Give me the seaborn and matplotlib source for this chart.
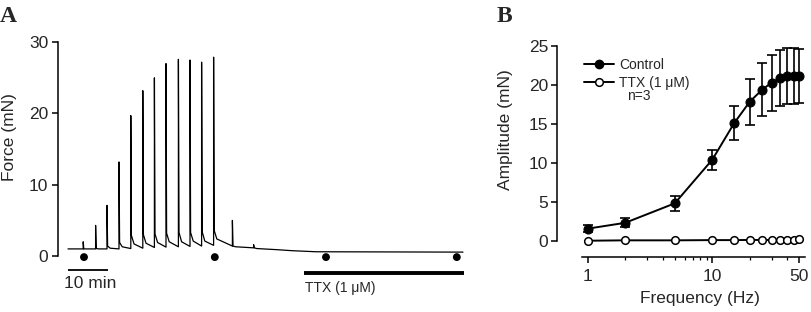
#!/usr/bin/env python3
"""
Force trace (A) and frequency-response curve (B), redrawn with seaborn.
"""
import pandas as pd
import seaborn as sns
import matplotlib.pyplot as plt
from matplotlib.ticker import FixedLocator, FixedFormatter, NullFormatter
from matplotlib.lines import Line2D

sns.set_theme(style='ticks', rc={"axes.spines.right": False,
                                 "axes.spines.top": False})
plt.rcParams['font.family'] = ['Liberation Sans', 'DejaVu Sans']

# ---- panel A: force trace (min, mN) ----
spike_time = [3.8, 6.9, 9.75, 12.75, 15.7, 18.7, 21.6, 24.5, 27.6, 30.5, 33.4, 36.4, 41.1, 46.4]
spike_peak = [2.0, 4.3, 7.1, 13.2, 19.7, 23.2, 25.0, 27.0, 27.6, 27.5, 27.2, 27.9, 5.0, 1.6]
spike_base = [1.0, 1.0, 1.0, 1.0, 1.05, 1.1, 1.2, 1.25, 1.3, 1.35, 1.4, 1.5, 1.4, 1.15]
spike_after = [1.0, 1.05, 1.4, 1.9, 2.9, 3.0, 3.1, 3.2, 3.3, 3.3, 3.4, 3.6, 1.4, 1.15]
spike_mid = [1.0, 1.0, 1.1, 1.3, 1.7, 1.8, 1.9, 2.0, 2.0, 2.1, 2.1, 2.4, 1.3, 1.05]
tail_time = [52.0, 56.0, 62.0, 98.75]
tail_force = [0.9, 0.75, 0.6, 0.55]
stim_time = [4.0, 36.7, 64.5, 97.2]
ttx_period = [59.0, 99.0]

# ---- panel B: amplitude vs frequency ----
freq = [1, 2, 5, 10, 15, 20, 25, 30, 35, 40, 45, 50]
control_mean = [1.55, 2.3, 4.8, 10.4, 15.1, 17.85, 19.35, 20.3, 20.85, 21.1, 21.2, 21.15]
control_err = [0.45, 0.6, 0.95, 1.3, 2.2, 2.95, 3.4, 3.6, 3.6, 3.6, 3.6, 3.45]
ttx_mean = [0.0, 0.05, 0.05, 0.08, 0.08, 0.1, 0.1, 0.1, 0.12, 0.15, 0.15, 0.18]

FS = 12.5


def build_trace():
    t = [0.0]
    f = [spike_base[0]]
    for ts, base, peak, after, mid in zip(spike_time, spike_base, spike_peak,
                                          spike_after, spike_mid):
        t += [ts, ts, ts + 0.15, ts + 0.8]
        f += [base, peak, after, mid]
    t += tail_time
    f += tail_force
    return pd.DataFrame({'time': t, 'force': f})


fig = plt.figure(figsize=(8.12, 3.12), dpi=100)

# ---------------- A ----------------
ax_a = fig.add_axes([58 / 812, 0.0423, 408 / 812, 0.827])
trace = build_trace()
sns.lineplot(data=trace, x='time', y='force', estimator=None, sort=False,
             color='black', lw=0.9, ax=ax_a)
stims = pd.DataFrame({'time': stim_time, 'y': [-0.15] * len(stim_time)})
sns.scatterplot(data=stims, x='time', y='y', color='black', s=32,
                edgecolor='none', ax=ax_a, zorder=3)
ax_a.plot([0, 10], [-2.0, -2.0], color='black', lw=1.3, solid_capstyle='butt', clip_on=False)
ax_a.plot(ttx_period, [-2.35, -2.35], color='black', lw=2.8, solid_capstyle='butt', clip_on=False)
ax_a.text(-1.0, -3.9, '10 min', fontsize=FS, va='center', ha='left')
ax_a.text(59.3, -4.5, 'TTX (1 \u03bcM)', fontsize=10, va='center', ha='left')

ax_a.set_xlim(-2.5, 99.5)
ax_a.set_ylim(-6, 30.2)
ax_a.set_yticks([0, 10, 20, 30])
ax_a.spines['left'].set_bounds(0, 30)
ax_a.spines['bottom'].set_visible(False)
ax_a.set_xticks([])
ax_a.set_xlabel('')
ax_a.set_ylabel('Force (mN)', fontsize=FS)
ax_a.yaxis.set_label_coords(-0.1, 0.625)
ax_a.tick_params(axis='y', direction='out', length=4.5, width=1.1, pad=2.5,
                 labelsize=FS, color='black')
ax_a.spines['left'].set_linewidth(1.1)
ax_a.spines['left'].set_color('black')

# ---------------- B ----------------
ax_b = fig.add_axes([581.7 / 812, 0.176, 223.3 / 812, 0.6817])
resp = pd.DataFrame({'freq': freq * 2,
                     'amp': control_mean + ttx_mean,
                     'cond': ['Control'] * len(freq) + ['TTX (1 \u03bcM)'] * len(freq)})
ax_b.errorbar(freq, control_mean, yerr=control_err, fmt='none', ecolor='black',
              elinewidth=1.2, capsize=3.6, capthick=1.2, zorder=2)
sns.lineplot(data=resp[resp['cond'] == 'Control'], x='freq', y='amp',
             color='black', lw=1.4, marker='o', markersize=6.5,
             markerfacecolor='black', markeredgecolor='black', ax=ax_b, zorder=3)
sns.lineplot(data=resp[resp['cond'] != 'Control'], x='freq', y='amp',
             color='black', lw=1.4, marker='o', markersize=5.5,
             markerfacecolor='white', markeredgecolor='black', markeredgewidth=1.1,
             ax=ax_b, zorder=3)

ax_b.set_xscale('log')
ax_b.set_xlim(0.895, 55.5)
ax_b.set_ylim(-2.1, 25.2)
ax_b.xaxis.set_major_locator(FixedLocator([1, 10, 50]))
ax_b.xaxis.set_major_formatter(FixedFormatter(['1', '10', '50']))
ax_b.xaxis.set_minor_locator(FixedLocator([2, 3, 4, 5, 6, 7, 8, 9, 20, 30, 40]))
ax_b.xaxis.set_minor_formatter(NullFormatter())
ax_b.set_yticks([0, 5, 10, 15, 20, 25])
ax_b.spines['left'].set_position(('outward', 18))
ax_b.spines['left'].set_bounds(0, 25)
for side in ['left', 'bottom']:
    ax_b.spines[side].set_linewidth(1.1)
    ax_b.spines[side].set_color('black')
ax_b.tick_params(axis='both', which='major', direction='out', length=4.5, width=1.1,
                 labelsize=FS, color='black')
ax_b.tick_params(axis='x', which='major', pad=4)
ax_b.tick_params(axis='y', which='major', pad=1.5)
ax_b.tick_params(axis='x', which='minor', direction='out', length=2.5, width=0.9, color='black')
ax_b.set_xlabel('Frequency (Hz)', fontsize=FS)
ax_b.set_ylabel('Amplitude (mN)', fontsize=FS)
ax_b.xaxis.set_label_coords(0.5275, -0.16)
ax_b.yaxis.set_label_coords(-0.308, 0.598)

handles = [Line2D([], [], color='black', lw=1.4, marker='o', markersize=6,
                  markerfacecolor='black'),
           Line2D([], [], color='black', lw=1.4, marker='o', markersize=5.5,
                  markerfacecolor='white', markeredgewidth=1.1)]
ax_b.legend(handles, ['Control', 'TTX (1 \u03bcM)'], loc='upper left',
            bbox_to_anchor=(0.0, 0.95), frameon=False, fontsize=10,
            handlelength=2.1, handletextpad=0.4, labelspacing=0.3, borderaxespad=0.0,
            borderpad=0.2)
ax_b.text(0.205, 0.757, 'n=3', transform=ax_b.transAxes, fontsize=10,
          va='center', ha='left')

# panel letters
fig.text(0 / 812, 1 - 16 / 312, 'A', fontsize=17, fontweight='bold',
         family='Liberation Serif', va='center', ha='left')
fig.text(497 / 812, 1 - 17 / 312, 'B', fontsize=17, fontweight='bold',
         family='Liberation Serif', va='center', ha='left')

fig.savefig('out.png', dpi=100)
